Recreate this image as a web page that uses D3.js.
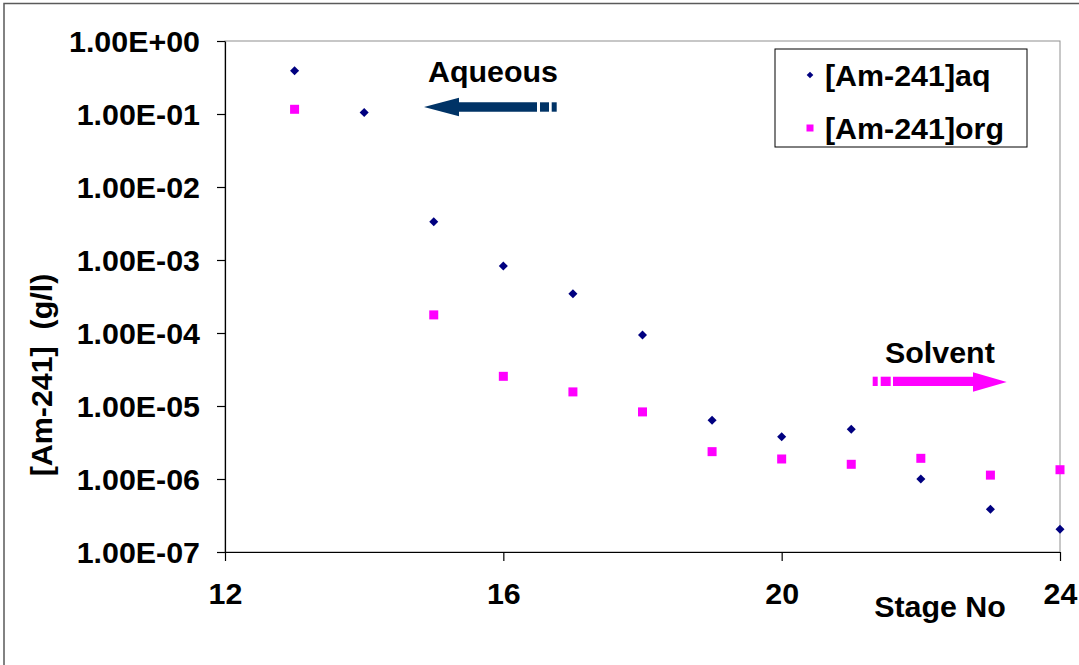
<!DOCTYPE html>
<html>
<head>
<meta charset="utf-8">
<script src="https://cdn.jsdelivr.net/npm/d3@7"></script>
<style>
  body { margin: 0; background: #fff; }
  svg text { font-family: Arial, "Liberation Sans", sans-serif; font-weight: bold; fill: #000; }
</style>
</head>
<body>
<div class="viz"></div>
<script>
// stage numbers + measured concentrations (g/l)
var stagesAq = [13, 14, 15, 16, 17, 18, 19, 20, 21, 22, 23, 24];
var amAq = [0.39, 0.105, 3.35e-3, 8.3e-4, 3.45e-4, 9.4e-5, 6.4e-6, 3.8e-6, 4.8e-6, 1.0e-6, 3.85e-7, 2.05e-7];

var stagesOrg = [13, 15, 16, 17, 18, 19, 20, 21, 22, 23, 24];
var amOrg = [0.116, 1.77e-4, 2.55e-5, 1.56e-5, 8.3e-6, 2.37e-6, 1.88e-6, 1.59e-6, 1.92e-6, 1.13e-6, 1.34e-6];

var xTicks = [12, 16, 20, 24];
var yTicks = [1, 1e-1, 1e-2, 1e-3, 1e-4, 1e-5, 1e-6, 1e-7];

var seriesNames = ["[Am-241]aq", "[Am-241]org"];
var seriesColors = ["#000080", "#FF00FF"];

const width = 1079, height = 665;
const plot = ({ left: 225, top: 41, right: 1060, bottom: 552 });
const fontSize = "30.4px";

var svg = d3.select(".viz")
  .append("svg")
  .attr("width", width)
  .attr("height", height);

// outer chart frame (only left/top edges fall inside the picture)
svg.append("rect")
  .attr("x", 4).attr("y", 3.5)
  .attr("width", 1100).attr("height", 700)
  .attr("fill", "none")
  .attr("stroke", "#5a5a5a")
  .attr("stroke-width", 1.5);

// plot area border
svg.append("rect")
  .attr("x", plot.left).attr("y", plot.top)
  .attr("width", plot.right - plot.left)
  .attr("height", plot.bottom - plot.top)
  .attr("fill", "none")
  .attr("stroke", "#909090")
  .attr("stroke-width", 1);

/* scales */
var xscale = d3.scaleLinear()
  .domain([12, 24])
  .range([plot.left, plot.right]);

var yscale = d3.scaleLog()
  .domain([1e-7, 1])
  .range([plot.bottom, plot.top]);

function sciFormat(d) {
  var e = Math.round(Math.log10(d));
  var sign = e < 0 ? "-" : "+";
  var digits = String(Math.abs(e)).padStart(2, "0");
  return "1.00E" + sign + digits;
}

/* axes */
var xaxis = d3.axisBottom(xscale)
  .tickValues(xTicks)
  .tickFormat(d3.format("d"))
  .tickSizeInner(9)
  .tickSizeOuter(0)
  .tickPadding(21);

var gx = svg.append("g")
  .attr("id", "x-axis")
  .attr("transform", "translate(0," + plot.bottom + ")")
  .call(xaxis);

var yaxis = d3.axisLeft(yscale)
  .tickValues(yTicks)
  .tickFormat(sciFormat)
  .tickSizeInner(8)
  .tickSizeOuter(0)
  .tickPadding(17);

var gy = svg.append("g")
  .attr("id", "y-axis")
  .attr("transform", "translate(" + plot.left + ",0)")
  .call(yaxis);

[gx, gy].forEach(function (g) {
  g.select(".domain").attr("stroke", "#000").attr("stroke-width", 1.2);
  g.selectAll(".tick line").attr("stroke", "#000").attr("stroke-width", 1.2);
  g.selectAll(".tick text")
    .style("font-size", fontSize)
    .attr("font-family", null)
    .attr("fill", "#000");
});
gx.selectAll(".tick text").attr("dy", "0.71em");
gy.selectAll(".tick text").attr("dy", "0.36em");

/* axis titles */
svg.append("text")
  .attr("transform", "translate(52,375) rotate(-90)")
  .attr("text-anchor", "middle")
  .style("font-size", fontSize)
  .style("white-space", "pre")
  .text("[Am-241]  (g/l)");

svg.append("text")
  .attr("x", 940).attr("y", 617)
  .attr("text-anchor", "middle")
  .style("font-size", fontSize)
  .text("Stage No");

/* data points */
var diamond = d3.symbol().type(d3.symbolDiamond2).size(52);

svg.append("g")
  .selectAll("path")
  .data(stagesAq.map((s, i) => ({ stage: s, value: amAq[i] })))
  .enter()
  .append("path")
  .attr("d", diamond)
  .attr("transform", (d) => "translate(" + xscale(d.stage) + "," + yscale(d.value) + ")")
  .attr("fill", seriesColors[0]);

var sq = 9;
svg.append("g")
  .selectAll("rect")
  .data(stagesOrg.map((s, i) => ({ stage: s, value: amOrg[i] })))
  .enter()
  .append("rect")
  .attr("x", (d) => xscale(d.stage) - sq / 2)
  .attr("y", (d) => yscale(d.value) - sq / 2)
  .attr("width", sq)
  .attr("height", sq)
  .attr("fill", seriesColors[1]);

/* legend */
var legend = svg.append("g").attr("id", "legend");
legend.append("rect")
  .attr("x", 775).attr("y", 49)
  .attr("width", 252).attr("height", 98)
  .attr("fill", "#fff")
  .attr("stroke", "#000")
  .attr("stroke-width", 1);

var rows = [75, 128];
legend.append("path")
  .attr("d", d3.symbol().type(d3.symbolDiamond2).size(28))
  .attr("transform", "translate(810," + rows[0] + ")")
  .attr("fill", seriesColors[0]);
legend.append("rect")
  .attr("x", 806.5).attr("y", rows[1] - 3.5)
  .attr("width", 7).attr("height", 7)
  .attr("fill", seriesColors[1]);

legend.selectAll("text.entry")
  .data(seriesNames)
  .enter()
  .append("text")
  .attr("class", "entry")
  .attr("x", 825)
  .attr("y", (d, i) => rows[i] + 10.8)
  .style("font-size", fontSize)
  .text((d) => d);

/* direction annotations */
svg.append("text")
  .attr("x", 428).attr("y", 82)
  .style("font-size", fontSize)
  .text("Aqueous");

var aq = svg.append("g").attr("fill", "#003366");
aq.append("path")
  .attr("d", "M424,107 L459,97.7 L459,102.3 L537,102.3 L537,111.7 L459,111.7 L459,116.3 Z");
aq.append("rect").attr("x", 540).attr("y", 102.3).attr("width", 9).attr("height", 9.4);
aq.append("rect").attr("x", 551.7).attr("y", 102.3).attr("width", 5).attr("height", 9.4);

svg.append("text")
  .attr("x", 885).attr("y", 363)
  .style("font-size", fontSize)
  .text("Solvent");

var so = svg.append("g").attr("fill", "#FF00FF");
so.append("path")
  .attr("d", "M1006.7,382 L973,372.3 L973,376.7 L893,376.7 L893,386 L973,386 L973,391.7 Z");
so.append("rect").attr("x", 872.7).attr("y", 376.7).attr("width", 5).attr("height", 9.3);
so.append("rect").attr("x", 880.7).attr("y", 376.7).attr("width", 10).attr("height", 9.3);
</script>
</body>
</html>
